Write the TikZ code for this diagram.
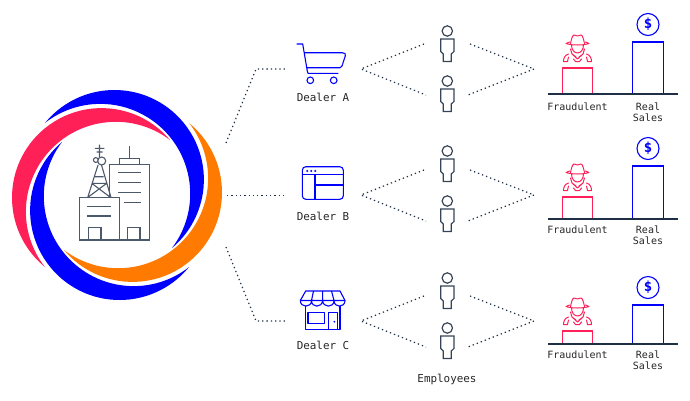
\documentclass[tikz,border=0pt]{standalone}
\usepackage{fontspec}
\setmainfont{DejaVu Sans Mono}
\usepackage{tikz}
\usetikzlibrary{arrows.meta,positioning}
\definecolor{navy}{HTML}{1F2F45}
\definecolor{fbrand}{HTML}{FF2058}
\definecolor{fblue}{HTML}{0000FF}
\definecolor{forange}{HTML}{FF7A00}
\begin{document}
\begin{tikzpicture}[x=1pt, y=-1pt, font=\fontsize{10}{12}\selectfont,
      lbl/.style={text=black!85, inner sep=0pt, align=center},
      big/.style={lbl, font=\fontsize{10.9}{12}\selectfont},
      dots/.style={draw=navy, line width=1.2pt, dash pattern=on 1.3pt off 3pt},
      ico/.style={draw=fblue, line width=1.1pt, line join=round},
      bld/.style={draw=navy!80, line width=1.1pt},
      man/.style={draw=navy!90, line width=1.2pt, line join=miter},
      bar/.style={line width=1.1pt},
      spy/.pic={
        \draw[draw=fbrand, line width=1pt, line join=round, line cap=round]
          (-11.5,8.5) .. controls (-6,10.5) and (6,10.5) .. (11.5,8.5)
          (-7,8.5) .. controls (-6,4) and (-5,0) .. (-3.5,0) -- (0,1) -- (3.5,0) .. controls (5,0) and (6,4) .. (7,8.5)
          (-11.5,8.5) -- (-8,7) (11.5,8.5) -- (8,7)
          (-6,10) .. controls (-6,15) and (-3,18) .. (0,18) .. controls (3,18) and (6,15) .. (6,10)
          (-7,14) -- (-5.5,19) -- (0,24) -- (5.5,19) -- (7,14)
          (-5.5,19) -- (-1.5,22) (5.5,19) -- (1.5,22)
          (-9,19) .. controls (-12.5,20) and (-14,23) .. (-14,26.5) -- (-10,26.5) -- (-9,22)
          (9,19) .. controls (12.5,20) and (14,23) .. (14,26.5) -- (10,26.5) -- (9,22)
          (-4,24) -- (-2,26.5) -- (2,26.5) -- (4,24);
      },
      person/.pic={
        \draw[man] (0,0) circle[radius=5.2];
        \draw[man] (-6.6,8) -- (6.6,8) -- (6.6,20.5) -- (4,23) -- (4,30.5) -- (-4,30.5) -- (-4,23) -- (-6.6,20.5) -- cycle;
      }]
    \useasboundingbox (0,0) rectangle (690,400);
    % swirl round the building
    \foreach \ang/\col in {0/fblue, 180/fblue, 90/fbrand, 270/forange}
      \fill[\col, shift={(117,195)}, rotate=\ang] (-72,-72)
        arc[start angle=-140.85, end angle=49.94, radius=89.5]
        arc[start angle=37.1, end angle=-128.1, radius=89.9] -- cycle;
    % building
    \draw[bld] (79.5,197.5) rectangle (119.4,240) (109.4,197.5) |- (149.5,164.5) |- (119.4,240);
    \draw[bld] (119.4,164.5) |- (139.4,158.5) -- (139.4,164.5) (129.4,158.5) -- (129.4,146);
    \foreach \yy in {172.7,182.7,192.7} \draw[bld] (118.3,\yy) -- (140.7,\yy);
    \draw[bld] (124.3,202.7) -- (140.7,202.7) (87.3,206.7) -- (110.7,206.7) (87.3,216) -- (110.7,216);
    \draw[bld] (88.5,240) |- (101,227.7) -- (101,240) (127.4,240) |- (140,227.7) -- (140,240);
    % tower
    \draw[bld] (87.7,197.5) -- (98,165) (111,197.5) -- (101.5,165)
      (91.7,183.3) -- (106.7,183.3) (95,176.7) -- (103.5,176.7)
      (91.7,183.3) -- (110,197) (106.7,183.3) -- (88.3,197)
      (99.5,144.5) -- (99.5,157) (94.8,148.3) -- (104.3,148.3) (96.5,152) -- (102.5,152);
    \draw[bld] (101.7,161) circle[radius=4] (95.8,160) circle[radius=2.4];
    % dealer icons
    \draw[ico] (296.7,44) -- (302.7,44) -- (307.3,71) -- (308,73.3) -- (338.3,73.3)
      (304,52.7) -- (342.3,52.7) .. controls (345,52.7) and (346,54) .. (345.3,56) -- (342,66) .. controls (341.5,67.5) and (341,67.7) .. (340,67.7) -- (306.5,67.7);
    \draw[ico] (310.3,80.3) circle[radius=3.3] (333.7,80.3) circle[radius=3.3];
    \draw[ico, rounded corners=3.5pt] (302.3,166.7) rectangle (343.3,199.3);
    \draw[ico] (302.3,174.3) -- (343.3,174.3) (315,174.3) -- (315,199.3) (315,185) -- (343.3,185);
    \foreach \xx in {307.3,311.3,315.3} \fill[fblue] (\xx,171) circle[radius=1.1];
    \draw[ico] (305.7,291) -- (340,291) -- (345,300.5) .. controls (345,308) and (334,308) .. (334,300.5)
      .. controls (334,308) and (323,308) .. (322.6,300.5) .. controls (322,308) and (311.5,308) .. (311.5,300.5)
      .. controls (311.5,308) and (300.3,308) .. (300.3,300.5) -- cycle;
    \draw[ico] (300.3,300.5) -- (345,300.5) (311.5,300.5) -- (313.5,291) (322.6,300.5) -- (322.6,291) (334,300.5) -- (331.5,291);
    \draw[ico] (305.2,305.5) |- (340,329.3) -- (340,305.5);
    \draw[ico] (308,312.3) rectangle (324.3,323.3) (328.3,329.3) |- (337.3,312.3) -- (337.3,329.3);
    \fill[fblue] (334.3,321.7) circle[radius=1];
    % connectors from the swirl
    \coordinate (hubA) at (226,143);
    \coordinate (hubB) at (227,195.5);
    \coordinate (hubC) at (226,247);
    \coordinate (kneeA) at (256,69);
    \coordinate (kneeC) at (256,321);
    \coordinate (inA) at (287,69);
    \coordinate (inB) at (285,195.5);
    \coordinate (inC) at (287,321);
    \draw[dots] (hubA) -- (kneeA) -- (inA);
    \draw[dots] (hubB) -- (inB);
    \draw[dots] (hubC) -- (kneeC) -- (inC);
    \node[big] (dealerA) at (323,97.5) {Dealer A};
    \node[big] (dealerB) at (323,216) {Dealer B};
    \node[big] (dealerC) at (323,345) {Dealer C};
    \node[big] (staff) at (447,379) {Employees};
    % one row per dealer
    \foreach \row/\my/\hy/\base/\pt/\bt/\ly in {A/69/31/94/68/42/107, B/195/151/219/197/166/230, C/321/278/344/331/305/355}{
      \coordinate (left\row) at (361,\my);
      \coordinate (right\row) at (534,\my);
      \coordinate (lu\row) at (424,\my-25);
      \coordinate (ld\row) at (426,\my+26);
      \coordinate (ru\row) at (470,\my-25);
      \coordinate (rd\row) at (468,\my+26);
      \draw[dots] (lu\row) -- (left\row) -- (ld\row);
      \draw[dots] (ru\row) -- (right\row) -- (rd\row);
      \pic at (447.3,\hy) {person};
      \pic at (447.3,\hy+50) {person};
      \draw[bar, draw=fbrand] (562.3,\base) |- (592.7,\pt) -- (592.7,\base);
      \draw[bar, draw=fblue] (632.7,\base) |- (663.3,\bt) -- (663.3,\base);
      \draw[bar, draw=navy] (548,\base) -- (677.7,\base);
      \pic at (577.5,\pt-33) {spy};
      \node[draw=fblue, line width=1.1pt, circle, minimum size=22pt, inner sep=0pt, text=fblue, font=\fontsize{14}{14}\selectfont\bfseries] (money\row) at (648,\bt-17.5) {\$};
      \node[lbl] (fraud\row) at (577.5,\ly) {Fraudulent};
      \node[lbl] (real\row) at (648,\ly) {Real};
      \node[lbl, below=2.5pt of real\row] (sales\row) {Sales};
    }
  \end{tikzpicture}
\end{document}
